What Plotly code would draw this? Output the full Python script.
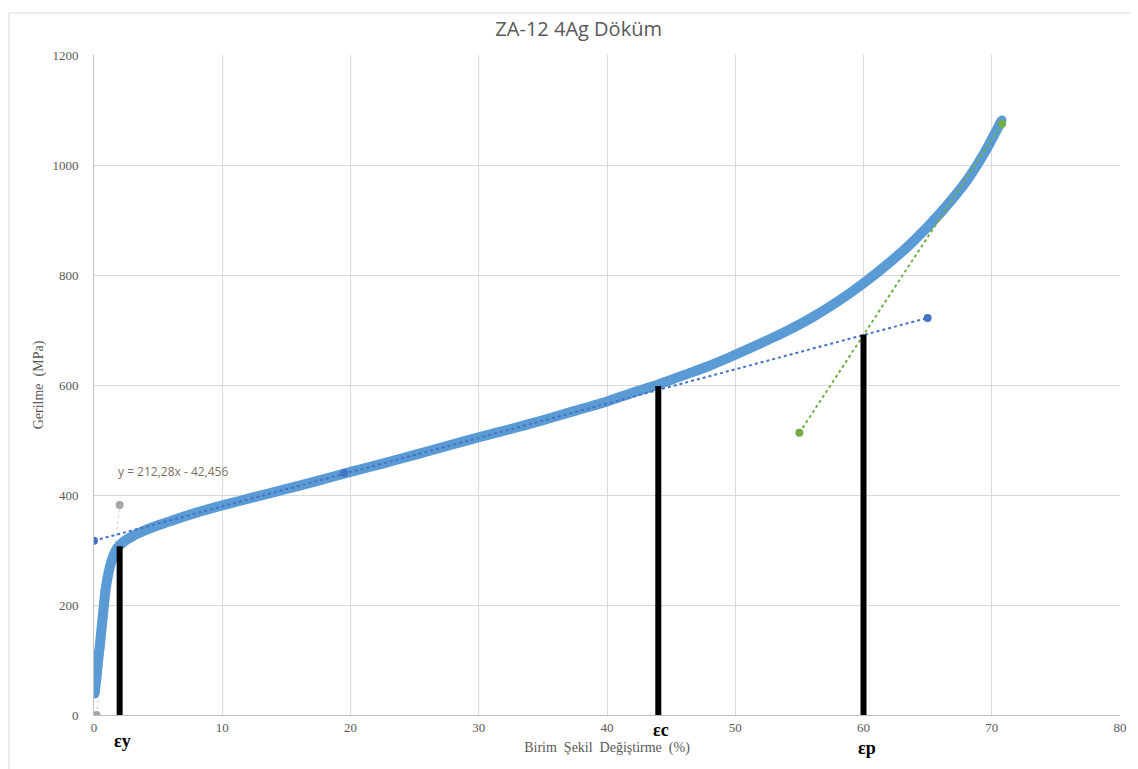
import plotly.graph_objects as go

# Main stress-strain curve
strain = [0.05, 0.1, 0.2, 0.3, 0.45, 0.6, 0.75, 0.9, 1.1, 1.3, 1.55, 1.8, 2.2, 3.0, 4.0, 5.0, 6.5, 8,
          10, 12.5, 15, 17.5, 20, 22.5, 25, 27.5, 30, 32.5, 35, 37.5, 40, 42, 44, 46, 48, 50, 52, 54,
          56, 58, 60, 62, 64, 66, 68, 69.5, 70.8]
stress = [38, 50, 70, 95, 125, 160, 195, 228, 255, 275, 292, 303, 313, 325, 336, 345, 357, 368,
          381, 396, 411, 426, 442, 457, 473, 489, 505, 520, 536, 553, 570, 586, 601, 618, 635, 655, 676, 698,
          723, 752, 785, 822, 864, 913, 970, 1025, 1082]

# Blue dotted trend line (hardening line)
trend_x = [0, 65]
trend_y = [317, 722]
mark_x = [19.5]
mark_y = [440]

# Green dotted tangent
green_x = [55, 70.8]
green_y = [513, 1075]

# Gray elastic line points
gray_x = [0.2, 1.5, 2.0]
gray_y = [0, 282, 382]

# Black vertical markers
bar_x = [2.0, 44.0, 60.0]
bar_top = [307, 598, 692]
bar_labels = ["εy", "εc", "εp"]

title = "ZA-12 4Ag Döküm"
x_title = "Birim  Şekil  Değiştirme  (%)"
y_title = "Gerilme  (MPa)"
eq_text = "y = 212,28x - 42,456"

fig = go.Figure()

fig.add_trace(go.Scatter(x=gray_x, y=gray_y, mode="lines+markers",
                         line=dict(color="#D0D0D0", width=1, dash="dot"),
                         marker=dict(color="#A5A5A5", size=8), showlegend=False))

fig.add_trace(go.Scatter(x=strain, y=stress, mode="lines+markers",
                         line=dict(color="#5B9BD5", width=10, shape="spline", smoothing=0.6),
                         marker=dict(color="#5B9BD5", size=9), showlegend=False))

fig.add_trace(go.Scatter(x=trend_x, y=trend_y, mode="lines+markers",
                         line=dict(color="#4472C4", width=2, dash="dot"),
                         marker=dict(color="#4472C4", size=8), showlegend=False))
fig.add_trace(go.Scatter(x=mark_x, y=mark_y, mode="markers",
                         marker=dict(color="#4472C4", size=8), showlegend=False))

fig.add_trace(go.Scatter(x=green_x, y=green_y, mode="lines+markers",
                         line=dict(color="#70AD47", width=2, dash="dot"),
                         marker=dict(color="#70AD47", size=8), showlegend=False))

for bx, bt in zip(bar_x, bar_top):
    fig.add_trace(go.Scatter(x=[bx, bx], y=[0, bt], mode="lines",
                             line=dict(color="black", width=6), showlegend=False))

label_y_px = [26, 15, 33]
for bx, lab, dy in zip(bar_x, bar_labels, label_y_px):
    fig.add_annotation(x=bx, y=0, xref="x", yref="y", text="<b>" + lab + "</b>", showarrow=False,
                       yshift=-dy, xshift=3,
                       font=dict(family="Liberation Serif, Times New Roman, serif", size=18, color="black"))

fig.add_annotation(x=1.75, y=443, xref="x", yref="y", text=eq_text, showarrow=False,
                   xanchor="left", font=dict(family="Open Sans, Arial, sans-serif", size=12, color="#7F6F5F"))

fig.update_layout(
    width=1130, height=761,
    margin=dict(l=86, r=18, t=47, b=54),
    paper_bgcolor="white", plot_bgcolor="white",
    title=dict(text=title, x=0.505, xanchor="center", y=0.972, yanchor="middle",
               font=dict(family="Liberation Sans Narrow, Arial Narrow, Open Sans, sans-serif", size=20, color="#595959")),
    xaxis=dict(range=[0, 80], dtick=10, showgrid=True, gridcolor="#D9D9D9", gridwidth=1,
               zeroline=False, showline=True, linecolor="#BFBFBF", ticks="",
               tickfont=dict(family="Liberation Serif, serif", size=13, color="#595959"),
               title=dict(text=x_title, standoff=8,
                          font=dict(family="Liberation Serif, serif", size=14, color="#595959"))),
    yaxis=dict(range=[0, 1200], dtick=200, showgrid=True, gridcolor="#D9D9D9", gridwidth=1,
               zeroline=False, showline=True, linecolor="#BFBFBF", ticks="",
               ticklabelstandoff=12,
               tickfont=dict(family="Liberation Serif, serif", size=13, color="#595959"),
               title=dict(text=y_title, standoff=5,
                          font=dict(family="Liberation Serif, serif", size=14, color="#595959"))),
)

# outer chart border
fig.add_shape(type="rect", xref="paper", yref="paper",
              x0=-85/1026, x1=1.05, y0=-0.2, y1=1 + 42/660,
              line=dict(color="#D9D9D9", width=1), layer="below")

fig.write_html("out.html")
